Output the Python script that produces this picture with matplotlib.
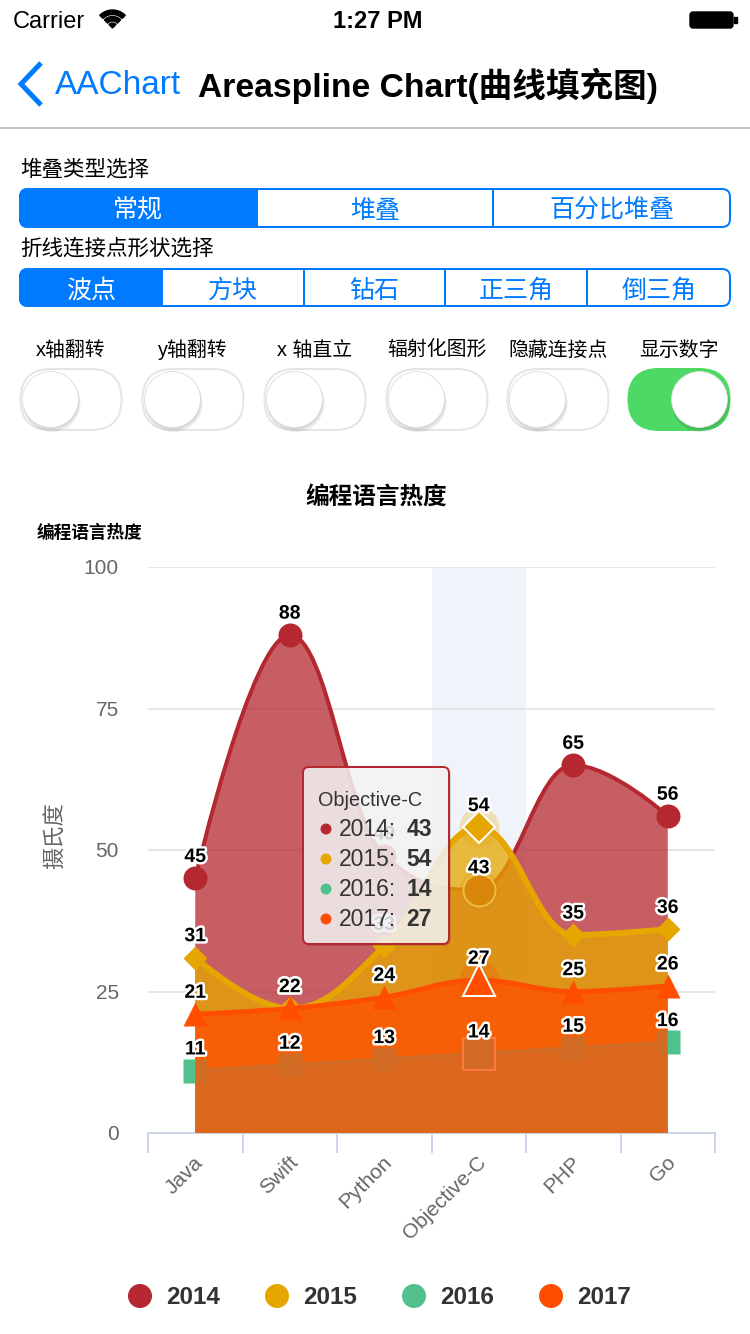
import matplotlib
matplotlib.use('Agg')
import matplotlib.pyplot as plt
from matplotlib.path import Path
from matplotlib.patches import PathPatch, FancyBboxPatch, Circle, Wedge, Rectangle
from matplotlib.transforms import ScaledTranslation
import matplotlib.patheffects as pe

plt.rcParams['font.family'] = ['Liberation Sans', 'Noto Sans CJK SC', 'DejaVu Sans']

# data
categories = ['Java', 'Swift', 'Python', 'Objective-C', 'PHP', 'Go']
series_names = ['2014', '2015', '2016', '2017']
values_2014 = [45, 88, 49, 43, 65, 56]
values_2015 = [31, 22, 33, 54, 35, 36]
values_2016 = [11, 12, 13, 14, 15, 16]
values_2017 = [21, 22, 24, 27, 25, 26]
series_values = [values_2014, values_2015, values_2016, values_2017]
colors = ['#b5282f', '#e6a600', '#50c18d', '#ff4e00']
y_ticks = [0, 25, 50, 75, 100]
hover_index = 3

PX = 0.72  # points per pixel at dpi 100


def spline(xs, ys):
    # highcharts style spline control points
    sm, den = 1.5, 2.5
    n = len(xs)
    lc = [None] * n
    rc = [None] * n
    for i in range(1, n - 1):
        x, y = xs[i], ys[i]
        lx, ly, nx, ny = xs[i - 1], ys[i - 1], xs[i + 1], ys[i + 1]
        lcx, lcy = (sm * x + lx) / den, (sm * y + ly) / den
        rcx, rcy = (sm * x + nx) / den, (sm * y + ny) / den
        corr = (rcy - lcy) * (rcx - x) / (rcx - lcx) + y - rcy
        lcy += corr
        rcy += corr
        if lcy > ly and lcy > y:
            lcy = max(ly, y); rcy = 2 * y - lcy
        elif lcy < ly and lcy < y:
            lcy = min(ly, y); rcy = 2 * y - lcy
        if rcy > ny and rcy > y:
            rcy = max(ny, y); lcy = 2 * y - rcy
        elif rcy < ny and rcy < y:
            rcy = min(ny, y); lcy = 2 * y - rcy
        lc[i] = (lcx, lcy)
        rc[i] = (rcx, rcy)
    verts = [(xs[0], ys[0])]
    codes = [Path.MOVETO]
    for i in range(1, n):
        verts += [rc[i - 1] or (xs[i - 1], ys[i - 1]), lc[i] or (xs[i], ys[i]), (xs[i], ys[i])]
        codes += [Path.CURVE4] * 3
    return verts, codes


fig = plt.figure(figsize=(7.5, 13.34), dpi=100)

# ---- chart axes ----
ax = fig.add_axes([148 / 750, 1 - 1133 / 1334, 567 / 750, 566 / 1334], zorder=2)
ax.set_facecolor('none')
ax.set_xlim(-0.5, 5.5)
ax.set_ylim(0, 100)
for s in ['top', 'right', 'left']:
    ax.spines[s].set_visible(False)
ax.spines['bottom'].set_color('#ccd6eb')
ax.spines['bottom'].set_linewidth(2 * PX)
ax.set_yticks(y_ticks)
ax.tick_params(axis='y', length=0, pad=21, labelsize=15, labelcolor='#666666')
ax.grid(axis='y', color='#e6e6e6', lw=2 * PX)
ax.set_axisbelow(True)
ax.set_xticks(range(len(categories)))
ax.set_xticklabels(categories, rotation=45, ha='right', va='center', rotation_mode='anchor')
ax.set_xticks([i - 0.5 for i in range(len(categories) + 1)], minor=True)
ax.tick_params(axis='x', which='major', length=0, pad=19, labelsize=15, labelcolor='#666666')
ax.tick_params(axis='x', which='minor', length=20 * PX, width=2 * PX, color='#ccd6eb', direction='out')
for lbl in ax.get_xticklabels():
    lbl.set_transform(lbl.get_transform() + ScaledTranslation(5 / 100, 0, fig.dpi_scale_trans))

# crosshair band
ax.axvspan(hover_index - 0.5, hover_index + 0.5, color='#ccd6eb', alpha=0.28, lw=0, zorder=0.2)

markers = ['o', 'D', 's', '^']
msizes = [24 * PX, 17 * PX, 24 * PX, 24 * PX]
hsizes = [32 * PX, 23 * PX, 32 * PX, 32 * PX]
line_widths = [4, 6, 4, 5]
xs = list(range(len(categories)))

for k, vals in enumerate(series_values):
    z = 10 + k * 5
    c = colors[k]
    v, cd = spline(xs, vals)
    area = Path(v + [(xs[-1], 0), (xs[0], 0), (xs[0], 0)], cd + [Path.LINETO, Path.LINETO, Path.CLOSEPOLY])
    ax.add_patch(PathPatch(area, facecolor=c, alpha=0.75, edgecolor='none', zorder=z))
    ax.add_patch(PathPatch(Path(v, cd), facecolor='none', edgecolor=c, lw=line_widths[k] * PX,
                           capstyle='round', joinstyle='round', zorder=z + 1))
    nx = [x for x in xs if x != hover_index]
    ny = [vals[x] for x in nx]
    ax.plot(nx, ny, ls='none', marker=markers[k], ms=msizes[k], color=c, mec='none',
            zorder=z + 2, clip_on=False)
    ax.plot(hover_index, vals[hover_index], 'o', ms=40 * PX, color=c, alpha=0.25, mec='none', zorder=z + 2)
    ax.plot(hover_index, vals[hover_index], ls='none', marker=markers[k], ms=hsizes[k], color=c,
            mec='white', mew=2 * PX, zorder=z + 3)
    for i, val in enumerate(vals):
        ax.annotate(str(val), (i, val), xytext=(0, 15), textcoords='offset points', ha='center',
                    va='center', fontsize=14, fontweight='bold', color='black', zorder=60,
                    path_effects=[pe.withStroke(linewidth=3.5, foreground='white')])

# ---- overlay with pixel coords ----
ov = fig.add_axes([0, 0, 1, 1], zorder=5)
ov.set_xlim(0, 750)
ov.set_ylim(1334, 0)
ov.axis('off')
ov.patch.set_alpha(0)

blue = '#007aff'

# status bar
ov.text(13, 22, 'Carrier', fontsize=17, va='center', ha='left')
for r, w in [(18, 4.5), (11.5, 4.5)]:
    ov.add_patch(Wedge((112.5, 28), r, 225, 315, width=w, color='black'))
ov.add_patch(Wedge((112.5, 28), 5, 225, 315, color='black'))
ov.text(378, 22, '1:27 PM', fontsize=17, fontweight='bold', ha='center', va='center')
ov.add_patch(FancyBboxPatch((690, 12), 43, 16, boxstyle='round,pad=0,rounding_size=3', fc='black', ec='black', lw=1))
ov.add_patch(Rectangle((734, 17), 3, 6, color='black'))

# nav bar
ov.plot([41, 21, 41], [63, 84, 105], color=blue, lw=5 * PX, solid_joinstyle='miter', solid_capstyle='butt')
ov.text(55, 86, 'AAChart', fontsize=24, color=blue, ha='left', va='center')
ov.text(198, 86, 'Areaspline Chart(曲线填充图)', fontsize=24.2, fontweight='bold', ha='left', va='center')
ov.plot([0, 750], [128, 128], color='#b2b2b2', lw=1.5 * PX)


def segmented(y0, y1, edges, labels, selected=0):
    h = y1 - y0
    ov.add_patch(FancyBboxPatch((20, y0), 710, h, boxstyle='round,pad=0,rounding_size=8',
                                fc='white', ec=blue, lw=2 * PX, zorder=1))
    a, b = edges[selected], edges[selected + 1]
    ov.add_patch(FancyBboxPatch((a, y0), b - a, h, boxstyle='round,pad=0,rounding_size=8',
                                fc=blue, ec=blue, lw=2 * PX, zorder=2))
    ov.add_patch(Rectangle(((a + b) / 2, y0), (b - a) / 2, h, fc=blue, ec=blue, lw=2 * PX, zorder=2))
    for e in edges[1:-1]:
        ov.plot([e, e], [y0, y1], color=blue, lw=2 * PX, zorder=3)
    for i, t in enumerate(labels):
        ov.text((edges[i] + edges[i + 1]) / 2, (y0 + y1) / 2 + 3, t, fontsize=18, ha='center', va='center',
                color='white' if i == selected else blue, zorder=4)


ov.text(20, 170, '堆叠类型选择', fontsize=15.5, ha='left', va='center')
segmented(189, 227, [20, 256.5, 493, 730], ['常规', '堆叠', '百分比堆叠'])
ov.text(20, 249, '折线连接点形状选择', fontsize=15.5, ha='left', va='center')
segmented(269, 306, [20, 162, 303.5, 445, 587, 730], ['波点', '方块', '钻石', '正三角', '倒三角'])

switch_labels = ['x轴翻转', 'y轴翻转', 'x 轴直立', '辐射化图形', '隐藏连接点', '显示数字']
switch_on = [False, False, False, False, False, True]
switch_x = [20.5, 142.5, 264.5, 386.5, 507.5, 628.5]
for lab, on, x0 in zip(switch_labels, switch_on, switch_x):
    ov.text(x0 + 50.5, 350, lab, fontsize=14.3, ha='center', va='center')
    ov.add_patch(FancyBboxPatch((x0, 369), 101, 61, boxstyle='round,pad=0,rounding_size=30.5',
                                fc='#4cd964' if on else 'white', ec='#4cd964' if on else '#e5e5e5',
                                lw=2 * PX))
    kx = x0 + 101 - 30 if on else x0 + 30
    ov.add_patch(Circle((kx + 1, 403), 29, fc='black', alpha=0.08, lw=0))
    ov.add_patch(Circle((kx + 0.5, 401), 28.5, fc='black', alpha=0.08, lw=0))
    ov.add_patch(Circle((kx, 399.5), 28, fc='white', ec='#dddddd', lw=0.6))

# chart titles
ov.text(376, 497, '编程语言热度', fontsize=17, fontweight='bold', ha='center', va='center')
ov.text(37, 533, '编程语言热度', fontsize=12.7, fontweight='bold', ha='left', va='center')
ov.text(57, 836, '摄氏度', fontsize=16, color='#666666', rotation=90, ha='center', va='center')

# tooltip
ov.add_patch(FancyBboxPatch((305, 769), 146, 177, boxstyle='round,pad=0,rounding_size=6',
                            fc='black', alpha=0.12, lw=0, zorder=8))
ov.add_patch(FancyBboxPatch((303, 767), 146, 177, boxstyle='round,pad=0,rounding_size=6',
                            fc=(247 / 255, 247 / 255, 247 / 255, 0.85), ec=colors[0], lw=2 * PX, zorder=9))
ov.text(318, 800, categories[hover_index], fontsize=14.3, color='#333333', ha='left', va='center', zorder=10)
for k, name in enumerate(series_names):
    yy = 829 + 30 * k
    ov.add_patch(Circle((326, yy), 5.5, fc=colors[k], lw=0, zorder=10))
    ov.text(339, yy, name + ':', fontsize=16.5, color='#333333', ha='left', va='center', zorder=10)
    ov.text(432, yy, str(series_values[k][hover_index]), fontsize=16.5, fontweight='bold',
            color='#333333', ha='right', va='center', zorder=10)

# legend
for k, name in enumerate(series_names):
    cx = 140 + 137 * k
    ov.add_patch(Circle((cx, 1296), 12, fc=colors[k], lw=0))
    ov.text(cx + 26, 1298, name, fontsize=17.5, fontweight='bold', color='#333333', ha='left', va='center')

fig.savefig('out.png', dpi=100, facecolor='white')
